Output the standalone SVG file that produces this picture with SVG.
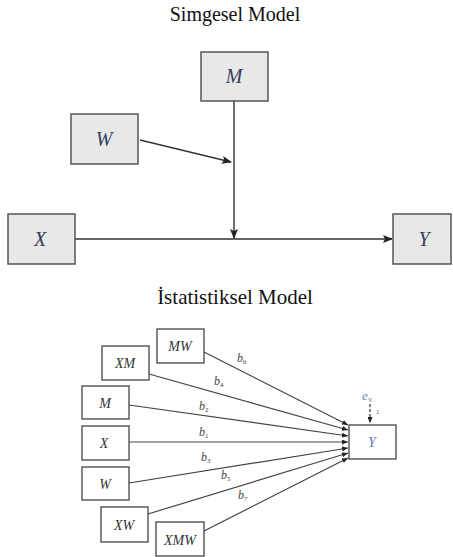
<svg xmlns="http://www.w3.org/2000/svg" width="453" height="557" viewBox="0 0 453 557">
<defs>
<marker id="ah" markerUnits="userSpaceOnUse" markerWidth="10" markerHeight="8" refX="9" refY="4" orient="auto"><path d="M0,0 L10,4 L0,8 L2,4 Z" fill="#222"/></marker>
<marker id="ahs" markerUnits="userSpaceOnUse" markerWidth="6" markerHeight="5" refX="6" refY="2.5" orient="auto"><path d="M0,0 L6,2.5 L0,5 Z" fill="#222"/></marker>
<style>
.title{font-family:"Liberation Serif",serif;font-size:20px;fill:#111;text-anchor:middle}
.gbox{fill:#e8e8e8;stroke:#555;stroke-width:1.5}
.wbox{fill:#fff;stroke:#444;stroke-width:1.3}
.big{font-family:"Liberation Serif",serif;font-style:italic;font-size:20px;fill:#34405a;text-anchor:middle}
.sm{font-family:"Liberation Serif",serif;font-style:italic;font-size:14px;fill:#333;text-anchor:middle}
.b{font-family:"Liberation Serif",serif;font-style:italic;font-size:12px;fill:#444}
.sub{font-size:7px;font-style:normal}
.ln{stroke:#333;stroke-width:1.4;fill:none}
.ln2{stroke:#444;stroke-width:1.2;fill:none}
</style>
</defs>
<text class="title" x="235" y="21">Simgesel Model</text>
<text class="title" x="235" y="304" style="font-size:21px">İstatistiksel Model</text>
<g id="connectors">
<line class="ln" x1="234" y1="101" x2="234" y2="238" marker-end="url(#ah)"/>
<line class="ln" x1="140" y1="140" x2="231" y2="162" marker-end="url(#ah)"/>
<line class="ln" x1="75" y1="239" x2="392" y2="239" marker-end="url(#ah)"/>
<line class="ln2" x1="204" y1="352" x2="348" y2="425" marker-end="url(#ahs)"/>
<line class="ln2" x1="149" y1="374" x2="348" y2="430" marker-end="url(#ahs)"/>
<line class="ln2" x1="129" y1="405" x2="348" y2="436" marker-end="url(#ahs)"/>
<line class="ln2" x1="129" y1="442" x2="348" y2="442" marker-end="url(#ahs)"/>
<line class="ln2" x1="129" y1="483" x2="348" y2="448" marker-end="url(#ahs)"/>
<line class="ln2" x1="148" y1="514" x2="348" y2="453" marker-end="url(#ahs)"/>
<line class="ln2" x1="204" y1="531" x2="348" y2="458" marker-end="url(#ahs)"/>
<line x1="370" y1="404" x2="370" y2="423" stroke="#333" stroke-width="1.2" stroke-dasharray="3,2" marker-end="url(#ahs)"/>
<text class="b" x="237" y="362">b<tspan class="sub" dy="2">6</tspan></text>
<text class="b" x="214" y="385">b<tspan class="sub" dy="2">4</tspan></text>
<text class="b" x="199" y="410">b<tspan class="sub" dy="2">2</tspan></text>
<text class="b" x="199" y="436">b<tspan class="sub" dy="2">1</tspan></text>
<text class="b" x="201" y="461">b<tspan class="sub" dy="2">3</tspan></text>
<text class="b" x="221" y="479">b<tspan class="sub" dy="2">5</tspan></text>
<text class="b" x="238" y="499">b<tspan class="sub" dy="2">7</tspan></text>
<text class="b" x="362" y="400" style="fill:#6a86b8;font-size:13px">e<tspan class="sub" dy="2">Y</tspan></text>
<text x="376" y="414" style="font-family:'Liberation Serif',serif;font-size:7px;fill:#555">1</text>
</g>
<g id="M"><rect class="gbox" x="201" y="52" width="67" height="49"/><text class="big" x="234" y="83">M</text></g>
<g id="W"><rect class="gbox" x="71" y="114" width="67" height="50"/><text class="big" x="104" y="146">W</text></g>
<g id="X"><rect class="gbox" x="8" y="214" width="67" height="50"/><text class="big" x="40" y="246">X</text></g>
<g id="Y"><rect class="gbox" x="393" y="214" width="58" height="50"/><text class="big" x="424" y="246">Y</text></g>
<g id="sMW"><rect class="wbox" x="157" y="329" width="47" height="34"/><text class="sm" x="180" y="351">MW</text></g>
<g id="sXM"><rect class="wbox" x="102" y="346" width="47" height="34"/><text class="sm" x="125" y="368">XM</text></g>
<g id="sM"><rect class="wbox" x="82" y="386" width="47" height="33"/><text class="sm" x="105" y="408">M</text></g>
<g id="sX"><rect class="wbox" x="82" y="426" width="47" height="34"/><text class="sm" x="104" y="448">X</text></g>
<g id="sW"><rect class="wbox" x="82" y="467" width="47" height="33"/><text class="sm" x="105" y="489">W</text></g>
<g id="sXW"><rect class="wbox" x="101" y="507" width="47" height="35"/><text class="sm" x="124" y="530">XW</text></g>
<g id="sXMW"><rect class="wbox" x="156" y="522" width="48" height="34"/><text class="sm" x="180" y="545">XMW</text></g>
<g id="sY"><rect class="wbox" x="349" y="425" width="47" height="34"/><text class="sm" x="372" y="447" style="fill:#5b7bb0">Y</text></g>
</svg>
